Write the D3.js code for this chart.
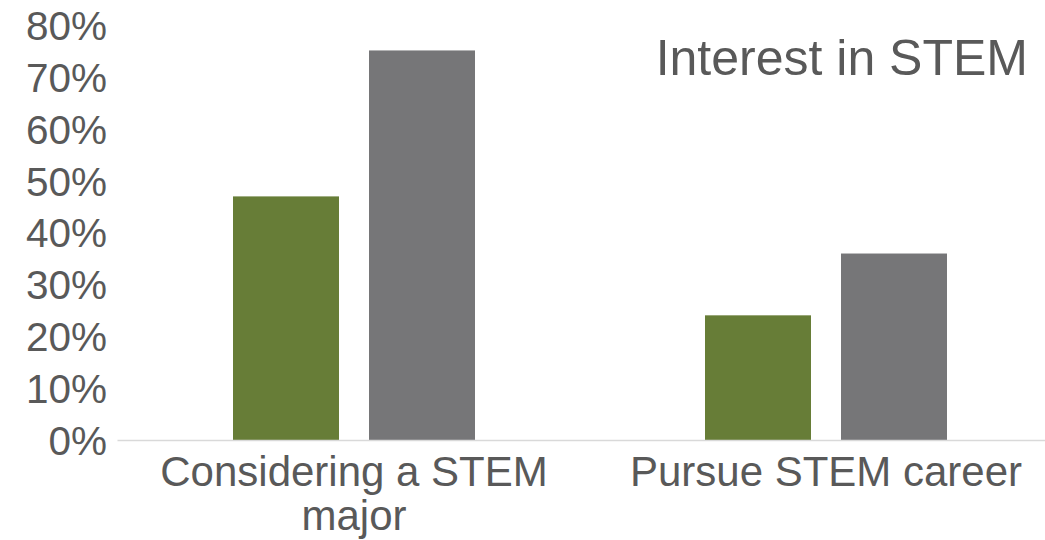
<!DOCTYPE html>
<html><head><meta charset="utf-8">
<script src="https://cdn.jsdelivr.net/npm/d3@7"></script>
<style>body{margin:0;background:#fff}svg{display:block}</style>
</head><body>
<svg id="c" width="1045" height="540"></svg>
<script>
const categories = [["Considering a STEM","major"],["Pursue STEM career"]];
const categoryKeys = ["Considering a STEM major","Pursue STEM career"];
const seriesNames = ["Series A","Series B"];
const seriesA = [0.47, 0.241];
const seriesB = [0.751, 0.36];
const yTicks = [0,0.1,0.2,0.3,0.4,0.5,0.6,0.7,0.8];
const colors = ["#677d37","#767678"];
const title = "Interest in STEM";

const svg = d3.select("#c");
const textColor = "#595959";
const x0 = d3.scaleBand().domain(categoryKeys).range([118,1062]).paddingInner(0).paddingOuter(0);
const x1 = d3.scaleBand().domain(seriesNames).range([0,x0.bandwidth()]).paddingInner(0.2206).paddingOuter(0.8456);
const y = d3.scaleLinear().domain([0,0.8]).range([440.5,25]);

// y axis labels
const yAxis = d3.axisLeft(y).tickValues(yTicks).tickFormat(d3.format(".0%")).tickSize(0).tickPadding(0);
const ga = svg.append("g").attr("transform","translate(107,0)").call(yAxis);
ga.select(".domain").remove();
ga.selectAll("text").attr("font-family","Liberation Sans, Arial, sans-serif").attr("font-size",40.5).attr("fill",textColor).attr("dy","0.35em");

// bars
const data = categoryKeys.map((k,i)=>({k, vals:[seriesA[i],seriesB[i]]}));
const g = svg.append("g");
data.forEach(d=>{
  d.vals.forEach((v,j)=>{
    g.append("rect")
      .attr("x", x0(d.k)+x1(seriesNames[j]))
      .attr("width", x1.bandwidth())
      .attr("y", y(v))
      .attr("height", y(0)-y(v))
      .attr("fill", colors[j]);
  });
});

// x axis line
svg.append("line").attr("x1",117.5).attr("x2",1045).attr("y1",y(0)).attr("y2",y(0))
  .attr("stroke","#d9d9d9").attr("stroke-width",1.5);

// category labels
categoryKeys.forEach((k,i)=>{
  const t = svg.append("text")
    .attr("x", x0(k)+x0.bandwidth()/2)
    .attr("y", 486)
    .attr("text-anchor","middle")
    .attr("font-family","Liberation Sans, Arial, sans-serif")
    .attr("font-size",42).attr("fill",textColor);
  categories[i].forEach((line,li)=>{
    t.append("tspan").attr("x", x0(k)+x0.bandwidth()/2).attr("dy", li===0?0:44).text(line);
  });
});

// title
svg.append("text").attr("x",1028).attr("y",75).attr("text-anchor","end")
  .attr("font-family","Liberation Sans, Arial, sans-serif").attr("font-size",50)
  .attr("fill",textColor).text(title);
</script>
</body></html>
